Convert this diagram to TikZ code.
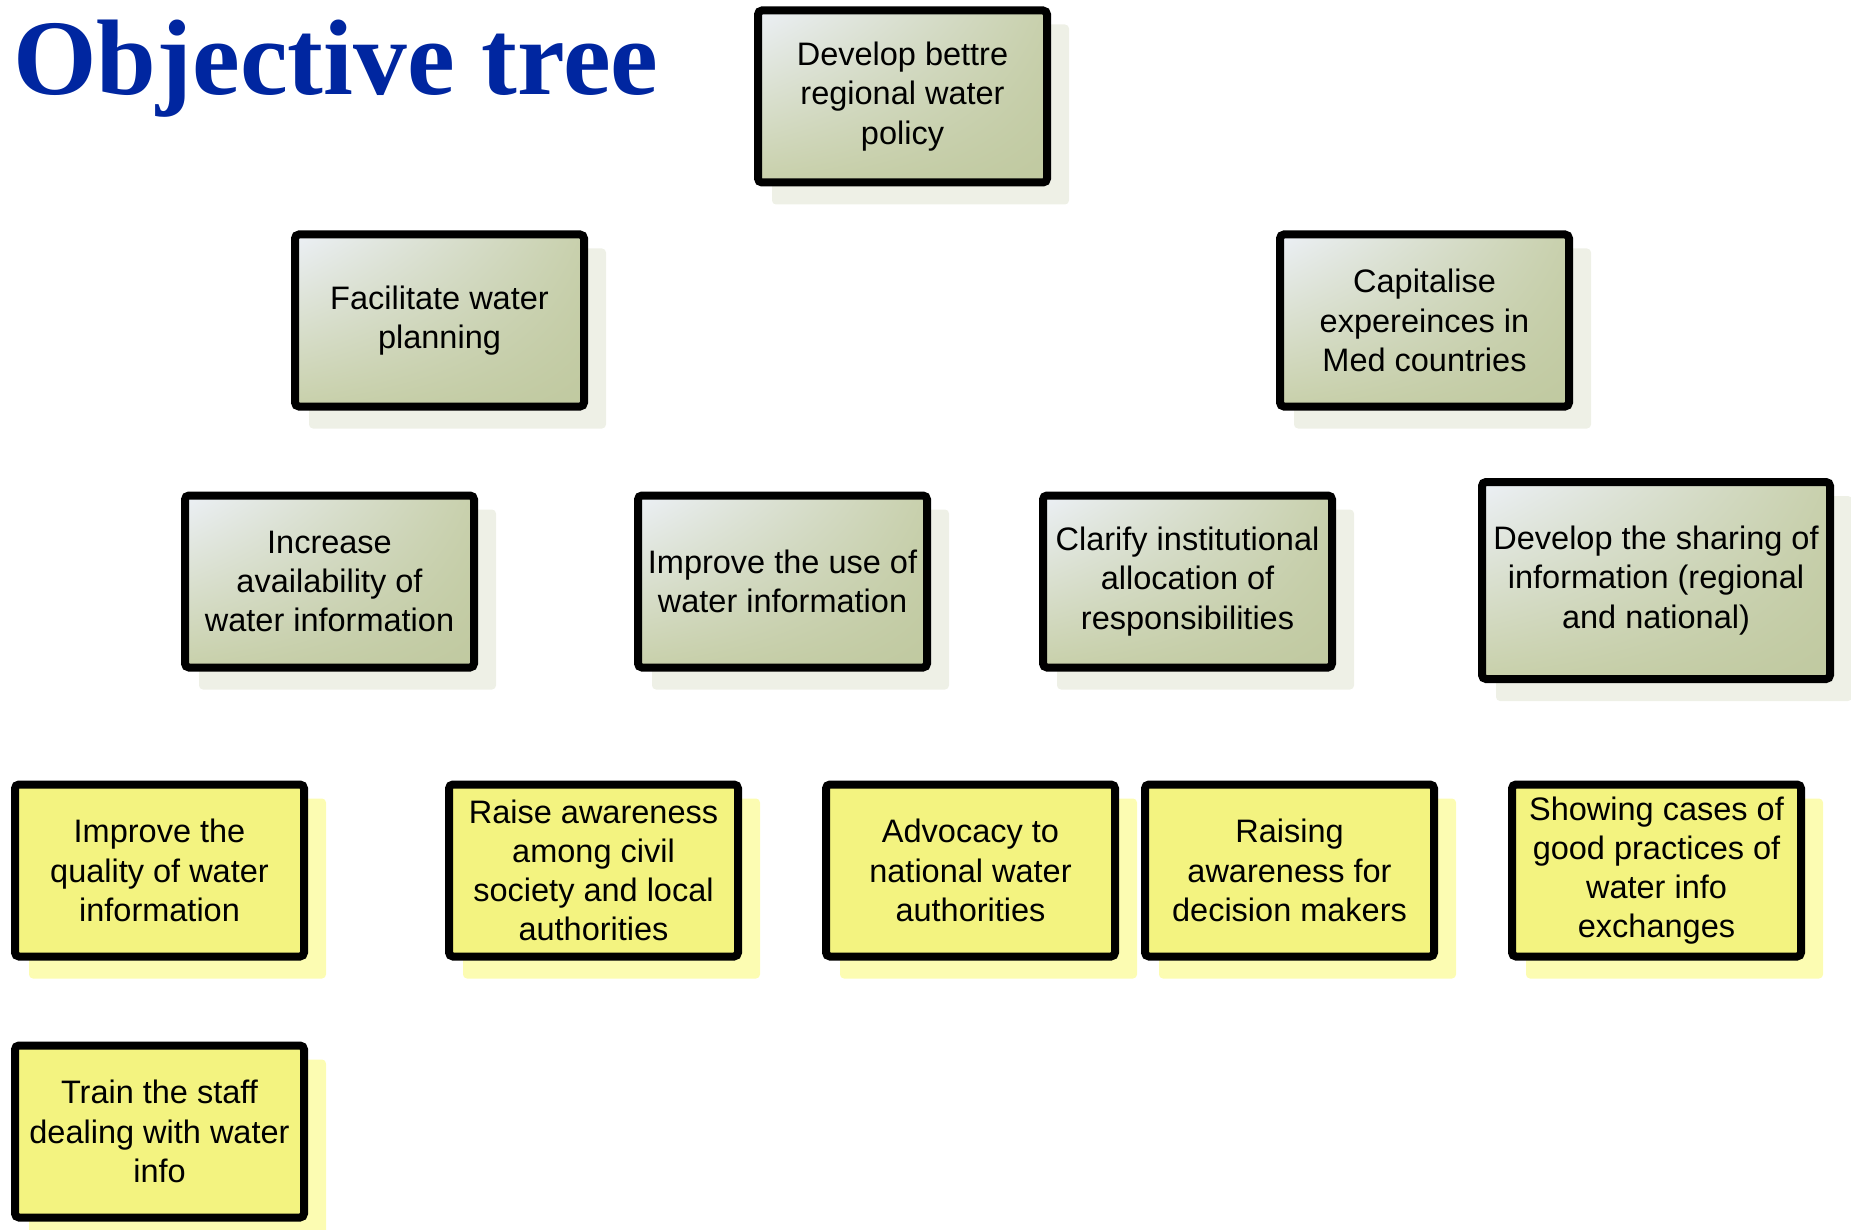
\documentclass[tikz,border=0pt]{standalone}
\usepackage{fontspec}
\setmainfont{Liberation Sans}
\newfontfamily\titlefont{Liberation Serif}
\usetikzlibrary{backgrounds,shadings}
\definecolor{titleblue}{RGB}{0,38,160}
\definecolor{gUL}{RGB}{236,240,246}
\definecolor{gUR}{RGB}{200,208,172}
\definecolor{gLL}{RGB}{200,208,170}
\definecolor{gLR}{RGB}{192,201,160}
\definecolor{gshadow}{RGB}{238,240,230}
\definecolor{yfill}{RGB}{243,243,128}
\definecolor{yshadow}{RGB}{252,252,178}
\tikzset{
  box/.style={draw=black, line width=4pt, rounded corners=2pt,
    minimum width=144.5pt, minimum height=86pt, align=center,
    inner sep=2pt, text=black, font=\fontsize{16.25}{19.6}\selectfont},
  greenbox/.style={box, upper left=gUL, upper right=gUR, lower left=gLL, lower right=gLR},
  yellowbox/.style={box, fill=yfill},
  bigbox/.style={minimum width=174pt, minimum height=98.5pt},
  gshade/.style={fill=gshadow, rounded corners=2pt},
  yshade/.style={fill=yshadow, rounded corners=2pt},
}
\begin{document}
\begin{tikzpicture}[x=0.5pt, y=-0.5pt]
\useasboundingbox (0,0) rectangle (1851,1230);
\node[anchor=base west, inner sep=0pt, text=titleblue, font=\titlefont\bfseries\fontsize{53.7}{60}\selectfont] (title) at (13,95) {Objective tree};

\node[greenbox] (n0) at (902.5,96.5) {Develop bettre\\regional water\\policy};
\node[greenbox] (n1) at (439.5,320.5) {Facilitate water\\planning};
\node[greenbox] (n2) at (1424.5,320.5) {Capitalise\\expereinces in\\Med countries};
\node[greenbox] (n3) at (329.5,581.5) {Increase\\availability of\\water information};
\node[greenbox] (n4) at (782.5,581.5) {Improve the use of\\water information};
\node[greenbox] (n5) at (1187.5,581.5) {Clarify institutional\\allocation of\\responsibilities};
\node[greenbox, bigbox] (n6) at (1656,580.5) {Develop the sharing of\\information (regional\\and national)};

\node[yellowbox] (n7) at (159.5,870.5) {Improve the\\quality of water\\information};
\node[yellowbox] (n8) at (593.5,870.5) {Raise awareness\\among civil\\society and local\\authorities};
\node[yellowbox] (n9) at (970.5,870.5) {Advocacy to\\national water\\authorities};
\node[yellowbox] (n10) at (1289.5,870.5) {Raising\\awareness for\\decision makers};
\node[yellowbox] (n11) at (1656.5,870.5) {Showing cases of\\good practices of\\water info\\exchanges};
\node[yellowbox] (n12) at (159.5,1131.5) {Train the staff\\dealing with water\\info};

\begin{scope}[on background layer]
  \foreach \n in {n0,n1,n2,n3,n4,n5,n6}
    \fill[gshade] ([shift={(18,18)}]\n.north west) rectangle ([shift={(18,18)}]\n.south east);
  \foreach \n in {n7,n8,n9,n10,n11,n12}
    \fill[yshade] ([shift={(18,18)}]\n.north west) rectangle ([shift={(18,18)}]\n.south east);
\end{scope}
\end{tikzpicture}
\end{document}
